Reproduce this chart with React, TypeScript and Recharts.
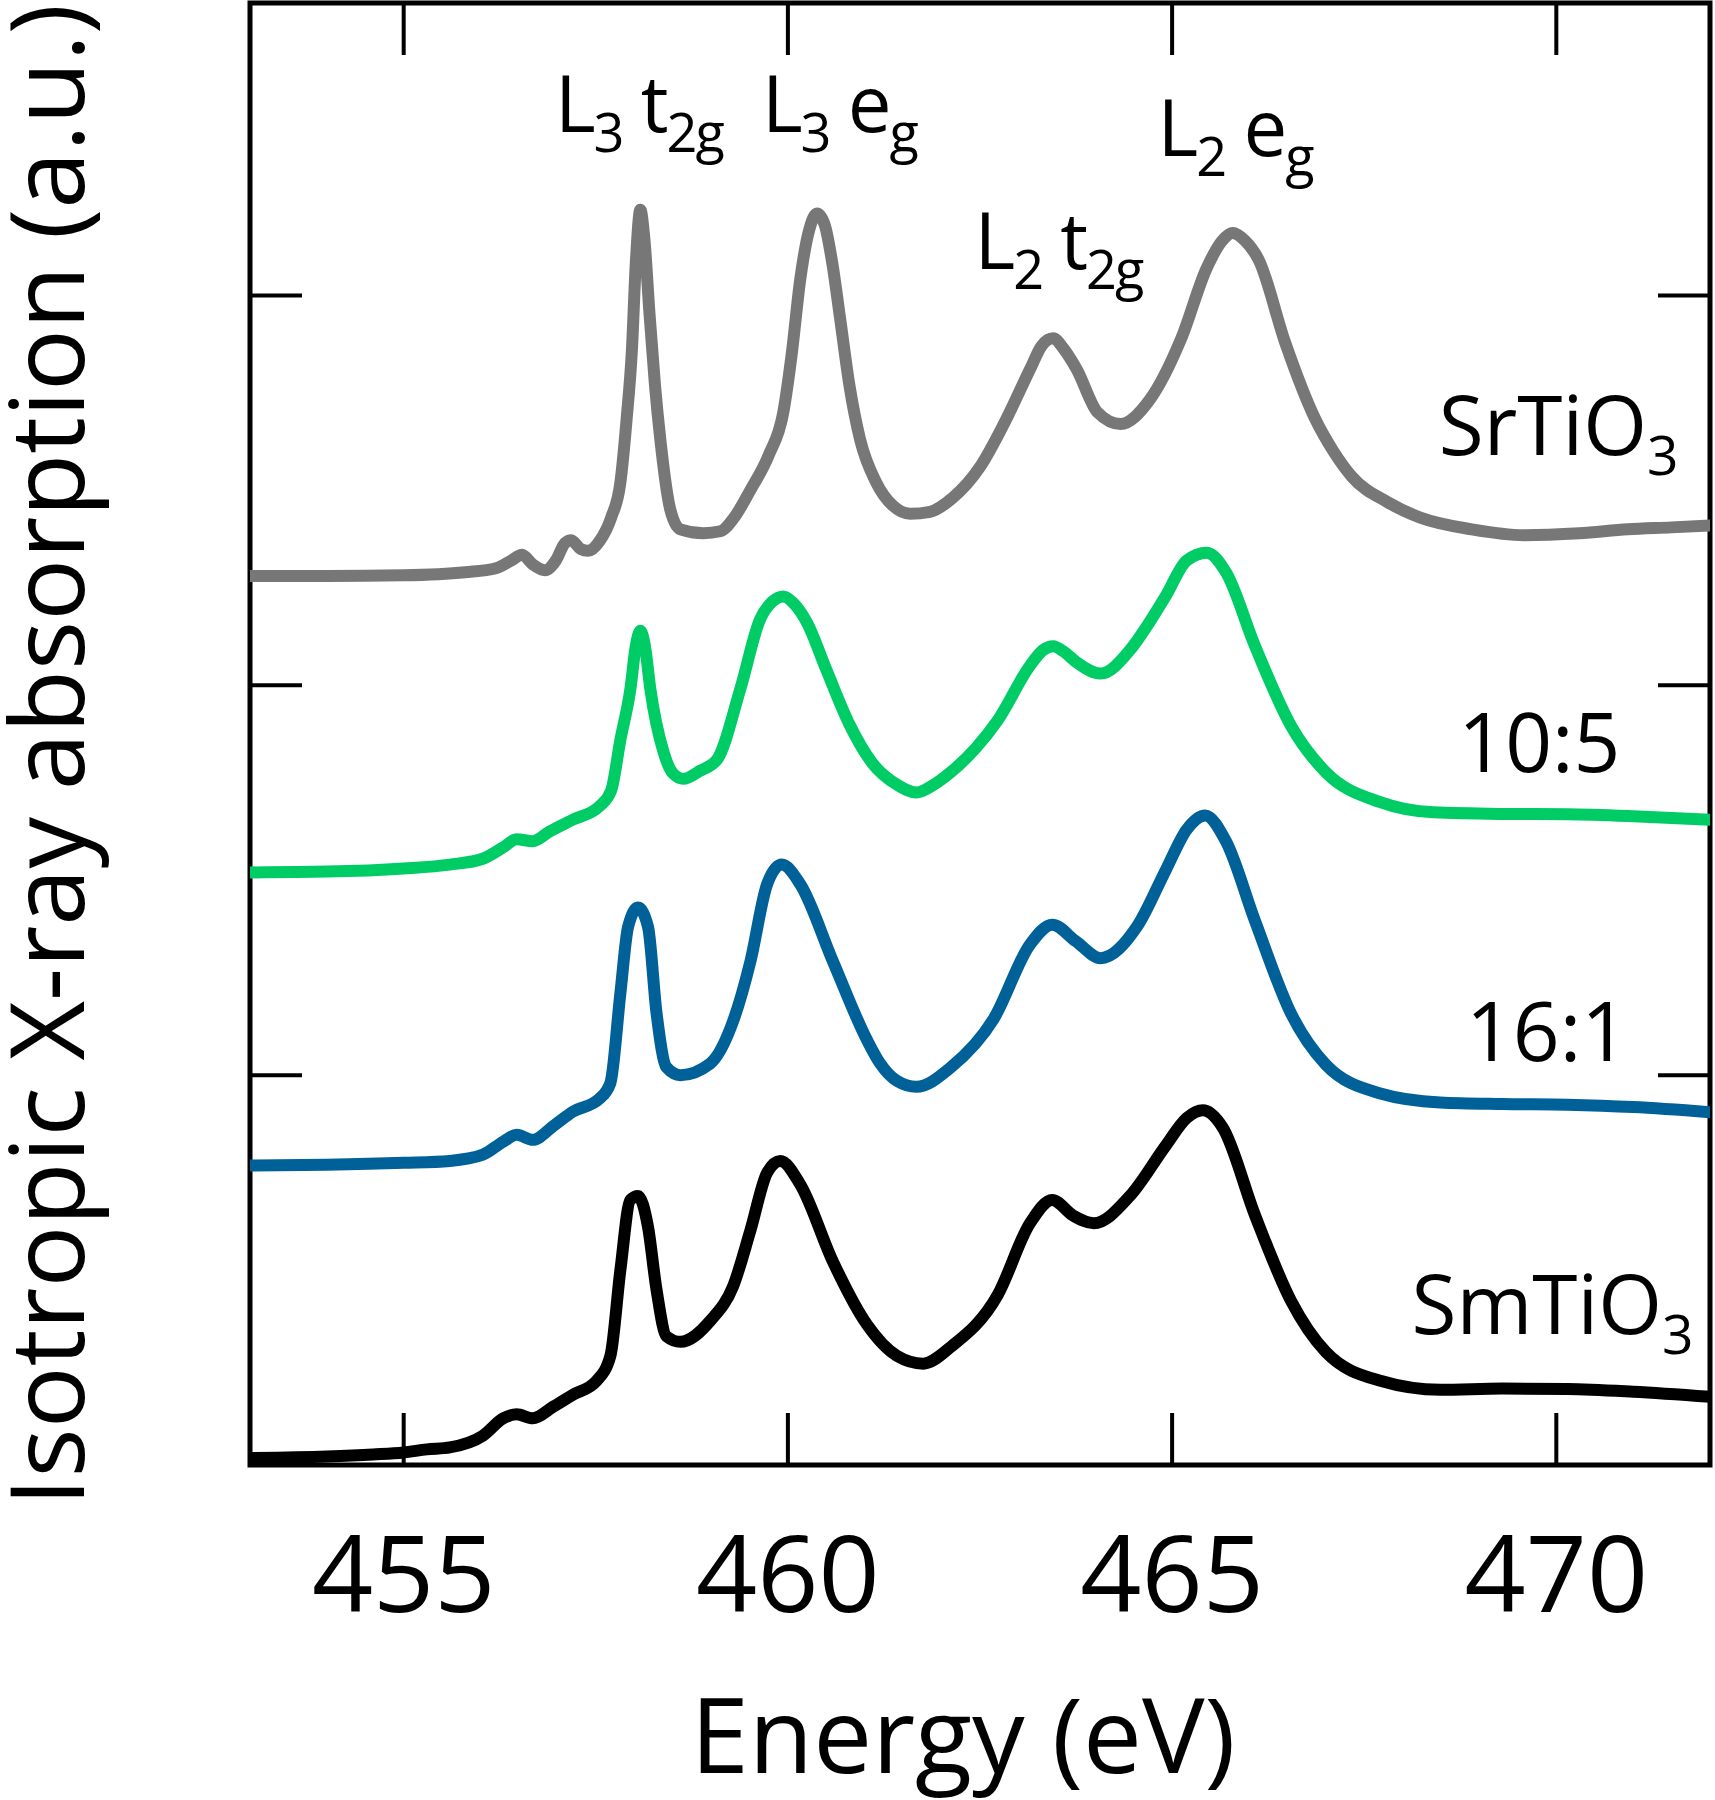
import { LineChart, Line, XAxis, YAxis, ReferenceArea, ReferenceDot, Label } from "recharts";

// Photon energy (eV) and isotropic absorption (a.u., offset) for each sample
const SRTIO3_E = [453, 454, 455, 455.8, 456.2, 456.4, 456.54, 456.68, 456.84, 456.98, 457.1, 457.18, 457.3, 457.4, 457.55, 457.7, 457.82, 457.9, 457.97, 458.02, 458.08, 458.13, 458.2, 458.27, 458.34, 458.47, 458.6, 458.9, 459.12, 459.3, 459.51, 459.75, 459.94, 460.05, 460.16, 460.28, 460.38, 460.48, 460.58, 460.68, 460.8, 460.94, 461.15, 461.37, 461.59, 461.85, 462.14, 462.5, 462.81, 463.15, 463.3, 463.45, 463.6, 463.76, 464.03, 464.33, 464.7, 465.12, 465.45, 465.65, 465.79, 465.95, 466.13, 466.47, 466.87, 467.1, 467.34, 467.8, 468.23, 468.9, 469.58, 470.3, 470.93, 471.5, 472];
const SRTIO3_A = [2.28, 2.28, 2.282, 2.29, 2.3, 2.32, 2.335, 2.31, 2.295, 2.32, 2.365, 2.372, 2.35, 2.345, 2.37, 2.43, 2.52, 2.68, 2.86, 3.08, 3.22, 3.15, 2.95, 2.77, 2.63, 2.45, 2.4, 2.39, 2.395, 2.43, 2.5, 2.59, 2.7, 2.85, 3.04, 3.17, 3.21, 3.18, 3.08, 2.94, 2.77, 2.63, 2.52, 2.46, 2.44, 2.445, 2.48, 2.56, 2.67, 2.81, 2.87, 2.89, 2.86, 2.81, 2.7, 2.67, 2.73, 2.89, 3.07, 3.14, 3.16, 3.14, 3.09, 2.88, 2.68, 2.6, 2.535, 2.47, 2.43, 2.4, 2.385, 2.39, 2.4, 2.405, 2.41];

const S10_5_E = [453, 454, 455, 455.6, 456.03, 456.3, 456.47, 456.68, 456.9, 457.2, 457.55, 457.7, 457.82, 457.95, 458.02, 458.08, 458.14, 458.21, 458.38, 458.5, 458.64, 458.85, 459.08, 459.38, 459.64, 459.8, 459.94, 460.1, 460.25, 460.5, 460.8, 461.1, 461.42, 461.67, 461.9, 462.12, 462.45, 462.73, 463.15, 463.32, 463.45, 463.6, 463.75, 464.07, 464.45, 464.7, 464.92, 465.19, 465.45, 465.7, 466.08, 466.55, 467, 467.71, 468.4, 469.3, 470.14, 471, 472];
const S10_5_A = [1.52, 1.522, 1.53, 1.54, 1.555, 1.585, 1.605, 1.6, 1.625, 1.655, 1.69, 1.73, 1.86, 1.99, 2.1, 2.14, 2.1, 1.99, 1.83, 1.775, 1.76, 1.78, 1.81, 1.99, 2.17, 2.215, 2.228, 2.205, 2.16, 2.04, 1.9, 1.8, 1.745, 1.725, 1.745, 1.777, 1.84, 1.91, 2.05, 2.09, 2.1, 2.085, 2.06, 2.03, 2.09, 2.16, 2.23, 2.32, 2.34, 2.29, 2.1, 1.895, 1.777, 1.7, 1.674, 1.67, 1.669, 1.664, 1.655];

const S16_1_E = [453, 454, 455, 455.6, 456.03, 456.3, 456.47, 456.68, 456.95, 457.2, 457.55, 457.69, 457.82, 457.92, 458.05, 458.18, 458.29, 458.42, 458.6, 458.99, 459.29, 459.51, 459.73, 459.92, 460.16, 460.59, 461.03, 461.2, 461.42, 461.67, 462.12, 462.68, 463.15, 463.44, 463.75, 464.07, 464.54, 464.92, 465.19, 465.43, 465.7, 466.08, 466.55, 467, 467.71, 468.49, 469.3, 470.14, 471, 472];
const S16_1_A = [0.768, 0.77, 0.775, 0.78, 0.796, 0.83, 0.847, 0.834, 0.87, 0.906, 0.94, 0.98, 1.21, 1.38, 1.43, 1.38, 1.16, 1.02, 1.0, 1.03, 1.14, 1.29, 1.49, 1.54, 1.49, 1.29, 1.09, 1.03, 0.985, 0.97, 1.02, 1.145, 1.335, 1.386, 1.343, 1.3, 1.38, 1.527, 1.63, 1.666, 1.6, 1.395, 1.157, 1.027, 0.953, 0.93, 0.926, 0.924, 0.918, 0.905];

const SMTIO3_E = [453, 454, 454.6, 455, 455.3, 455.6, 456.03, 456.3, 456.47, 456.68, 456.95, 457.2, 457.51, 457.69, 457.82, 457.95, 458.05, 458.18, 458.29, 458.42, 458.6, 458.99, 459.29, 459.51, 459.73, 459.9, 460.16, 460.59, 461.03, 461.42, 461.76, 462.12, 462.73, 463.15, 463.44, 463.71, 463.98, 464.45, 464.92, 465.19, 465.4, 465.66, 466.08, 466.55, 467, 467.71, 468.49, 469.3, 470.14, 471, 472];
const SMTIO3_A = [0.018, 0.022, 0.027, 0.032, 0.04, 0.045, 0.075, 0.12, 0.13, 0.12, 0.15, 0.18, 0.216, 0.28, 0.5, 0.68, 0.69, 0.61, 0.45, 0.33, 0.316, 0.37, 0.46, 0.6, 0.75, 0.78, 0.72, 0.52, 0.36, 0.28, 0.26, 0.303, 0.436, 0.62, 0.68, 0.64, 0.62, 0.69, 0.82, 0.89, 0.91, 0.865, 0.64, 0.42, 0.29, 0.216, 0.193, 0.196, 0.195, 0.188, 0.175];

const X_TICKS = [455, 460, 465, 470];
const Y_TICKS = [1, 2, 3];

// text pieces: [text, isSubscript]
type Part = [string, boolean];
const PEAK_NAMES: Part[][] = [
  [["L", false], ["3", true], ["\u00a0t", false], ["2g", true]],
  [["L", false], ["3", true], ["\u00a0e", false], ["g", true]],
  [["L", false], ["2", true], ["\u00a0t", false], ["2g", true]],
  [["L", false], ["2", true], ["\u00a0e", false], ["g", true]],
];
const PEAK_E = [458.06, 460.67, 463.52, 465.82];
const PEAK_A = [3.42, 3.42, 3.068, 3.358];

const SAMPLE_NAMES: Part[][] = [
  [["SrTiO", false], ["3", true]],
  [["10:5", false]],
  [["16:1", false]],
  [["SmTiO", false], ["3", true]],
];
const SAMPLE_E = [470.03, 469.78, 469.88, 469.95];
const SAMPLE_A = [2.59, 1.777, 1.035, 0.336];

const FONT = "'Open Sans', 'Noto Sans', sans-serif";
const PLOT = { left: 250, right: 1710, top: 3, bottom: 1465 };
const TICK_LEN = 52;
const SUB_DY = 20;

const zip = (e: number[], a: number[]) => e.map((x, i) => ({ e: x, a: a[i] }));

const SERIES = [
  { name: "SrTiO3", data: zip(SRTIO3_E, SRTIO3_A), color: "#777777" },
  { name: "10:5", data: zip(S10_5_E, S10_5_A), color: "#00cc66" },
  { name: "16:1", data: zip(S16_1_E, S16_1_A), color: "#006199" },
  { name: "SmTiO3", data: zip(SMTIO3_E, SMTIO3_A), color: "#000000" },
];

function RichText({ cx, cy, parts, size, subSize, spacing }: {
  cx: number; cy: number; parts: Part[]; size: number; subSize: number; spacing: number;
}) {
  let down = false;
  return (
    <text x={cx} y={cy} textAnchor="middle" fontSize={size} fontFamily={FONT} fill="#000" letterSpacing={spacing}>
      {parts.map(([t, sub], i) => {
        const dy = sub && !down ? SUB_DY : !sub && down ? -SUB_DY : 0;
        down = sub;
        return (
          <tspan key={i} dy={dy} fontSize={sub ? subSize : size}>{t}</tspan>
        );
      })}
    </text>
  );
}

function BottomTick({ x, payload }: any) {
  return (
    <g>
      <line x1={x} x2={x} y1={PLOT.bottom} y2={PLOT.bottom - TICK_LEN} stroke="#000" strokeWidth={4} />
      <text x={x} y={1612} textAnchor="middle" fontSize={107} fontFamily={FONT} fill="#000">{payload.value}</text>
    </g>
  );
}

function TopTick({ x }: any) {
  return <line x1={x} x2={x} y1={PLOT.top} y2={PLOT.top + TICK_LEN} stroke="#000" strokeWidth={4} />;
}

function LeftTick({ y }: any) {
  return <line x1={PLOT.left} x2={PLOT.left + TICK_LEN} y1={y} y2={y} stroke="#000" strokeWidth={4} />;
}

function RightTick({ y }: any) {
  return <line x1={PLOT.right - TICK_LEN} x2={PLOT.right} y1={y} y2={y} stroke="#000" strokeWidth={4} />;
}

export default function App() {
  return (
    <div style={{ position: "absolute", left: 0, top: 0, background: "#fff" }}>
      <LineChart width={1715} height={1800} margin={{ top: 2, right: 4, bottom: 0, left: 249 }}>
        <XAxis
          xAxisId="b" type="number" dataKey="e" domain={[453, 472]} ticks={X_TICKS}
          height={335} axisLine={false} tickLine={false} tick={<BottomTick />} interval={0} allowDataOverflow
        >
          <Label
            content={() => (
              <text x={963} y={1773} textAnchor="middle" fontSize={105} fontFamily={FONT} fill="#000">Energy (eV)</text>
            )}
          />
        </XAxis>
        <XAxis
          xAxisId="t" orientation="top" type="number" dataKey="e" domain={[453, 472]} ticks={X_TICKS}
          height={1} axisLine={false} tickLine={false} tick={<TopTick />} interval={0} allowDataOverflow
        />
        <YAxis
          yAxisId="l" type="number" domain={[0, 3.75]} ticks={Y_TICKS} width={1}
          axisLine={false} tickLine={false} tick={<LeftTick />} interval={0} allowDataOverflow
        >
          <Label
            content={() => (
              <text x={84} y={755} transform="rotate(-90, 84, 755)" textAnchor="middle" fontSize={103} fontFamily={FONT} fill="#000">
                Isotropic X-ray absorption (a.u.)
              </text>
            )}
          />
        </YAxis>
        <YAxis
          yAxisId="r" orientation="right" type="number" domain={[0, 3.75]} ticks={Y_TICKS} width={1}
          axisLine={false} tickLine={false} tick={<RightTick />} interval={0} allowDataOverflow
        />
        {SERIES.map((s) => (
          <Line
            key={s.name} xAxisId="b" yAxisId="l" data={s.data} dataKey="a" type="monotone"
            stroke={s.color} strokeWidth={12} dot={false} activeDot={false} isAnimationActive={false}
            strokeLinejoin="round" strokeLinecap="round"
          />
        ))}
        <ReferenceArea
          xAxisId="b" yAxisId="l" x1={453} x2={472} y1={0} y2={3.75}
          fill="none" fillOpacity={0} stroke="#000" strokeWidth={5} ifOverflow="visible"
        />
        {PEAK_NAMES.map((parts, i) => (
          <ReferenceDot
            key={"p" + i} xAxisId="b" yAxisId="l" x={PEAK_E[i]} y={PEAK_A[i]} r={0} ifOverflow="visible"
            shape={(p: any) => <RichText cx={p.cx} cy={p.cy} parts={parts} size={78} subSize={54} spacing={-2} />}
          />
        ))}
        {SAMPLE_NAMES.map((parts, i) => (
          <ReferenceDot
            key={"s" + i} xAxisId="b" yAxisId="l" x={SAMPLE_E[i]} y={SAMPLE_A[i]} r={0} ifOverflow="visible"
            shape={(p: any) => <RichText cx={p.cx} cy={p.cy} parts={parts} size={82} subSize={55} spacing={0} />}
          />
        ))}
      </LineChart>
    </div>
  );
}
